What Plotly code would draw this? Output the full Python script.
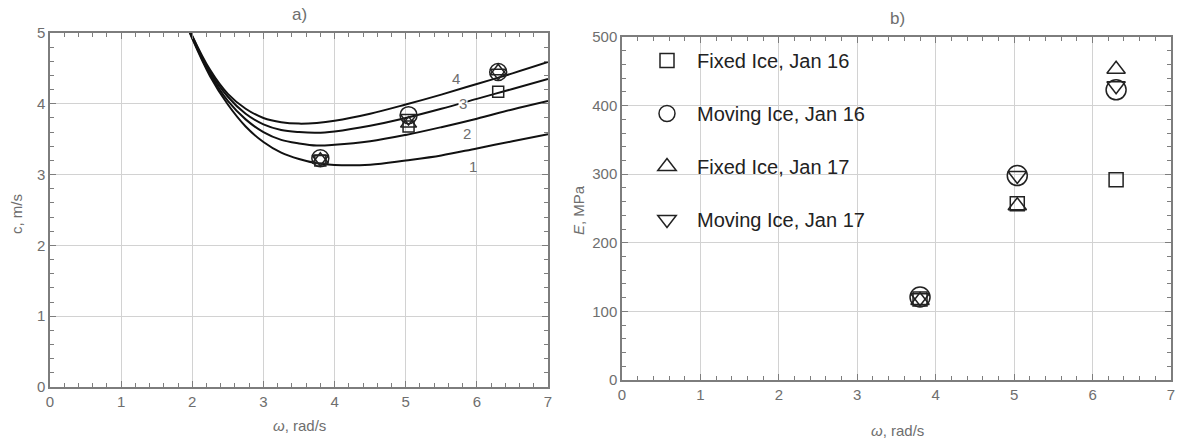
import plotly.graph_objects as go

W, H = 1179, 441

# ---- left panel: dispersion curves ----
omega_curve = [1.9, 2.0, 2.25, 2.5, 2.75, 3.0, 3.25, 3.5, 3.75, 4.0, 4.5, 5.0, 5.5, 6.0, 6.5, 7.0]
c_curve1 = [5.17, 4.92, 4.39, 3.99, 3.68, 3.46, 3.31, 3.22, 3.16, 3.135, 3.14, 3.20, 3.27, 3.37, 3.47, 3.57]
c_curve2 = [5.18, 4.93, 4.42, 4.04, 3.78, 3.60, 3.49, 3.44, 3.41, 3.42, 3.47, 3.56, 3.67, 3.79, 3.92, 4.04]
c_curve3 = [5.19, 4.95, 4.45, 4.10, 3.86, 3.71, 3.63, 3.60, 3.59, 3.61, 3.69, 3.80, 3.93, 4.07, 4.21, 4.35]
c_curve4 = [5.20, 4.96, 4.48, 4.14, 3.93, 3.80, 3.74, 3.72, 3.73, 3.76, 3.86, 3.99, 4.13, 4.28, 4.43, 4.59]
curve_labels = ["1", "2", "3", "4"]
label_omega = [5.94, 5.86, 5.81, 5.70]
label_c = [3.12, 3.58, 4.01, 4.36]

# ---- measured points ----
omega_pts = [3.80, 5.04, 6.30]
series_names = ["Fixed Ice, Jan 16", "Moving Ice, Jan 16", "Fixed Ice, Jan 17", "Moving Ice, Jan 17"]
c_fixed16 = [3.20, 3.68, 4.17]
c_moving16 = [3.23, 3.84, 4.45]
c_fixed17 = [3.21, 3.72, 4.46]
c_moving17 = [3.22, 3.80, 4.44]
E_fixed16 = [118, 257, 292]
E_moving16 = [121, 298, 423]
E_fixed17 = [116, 254, 453]
E_moving17 = [120, 298, 429]

symbols = ["square-open", "circle-open", "triangle-up-open", "triangle-down-open"]
size_left = [11, 17, 14, 14]
size_right = [14, 20, 16, 16]
c_series = [c_fixed16, c_moving16, c_fixed17, c_moving17]
E_series = [E_fixed16, E_moving16, E_fixed17, E_moving17]

FONT = "Liberation Sans, Arial, sans-serif"
AX = "#7d7d7d"
GRID = "#d2d2d2"
TXT = "#6e6e6e"

fig = go.Figure()
for cv in [c_curve1, c_curve2, c_curve3, c_curve4]:
    fig.add_trace(go.Scatter(x=omega_curve, y=cv, mode="lines",
                             line=dict(color="#111111", width=2, shape="spline", smoothing=1),
                             showlegend=False, hoverinfo="skip", xaxis="x", yaxis="y"))
for i in range(4):
    fig.add_trace(go.Scatter(x=omega_pts, y=c_series[i], mode="markers",
                             marker=dict(symbol=symbols[i], size=size_left[i], color="#222222",
                                         line=dict(width=1.5)),
                             showlegend=False, xaxis="x", yaxis="y"))
for i in range(4):
    fig.add_trace(go.Scatter(x=omega_pts, y=E_series[i], mode="markers", name=series_names[i],
                             legendgroup="g%d" % i,
                             marker=dict(symbol=symbols[i], size=size_right[i], color="#222222",
                                         line=dict(width=1.5)),
                             showlegend=True, xaxis="x2", yaxis="y2"))

def px_x(p):
    return p / W

def px_y(p):
    return 1 - p / H

axis_common = dict(showgrid=True, gridcolor=GRID, gridwidth=1, showline=True, linecolor=AX,
                   linewidth=1.5, mirror="allticks", ticks="inside", ticklen=6, tickcolor=AX,
                   zeroline=False, tickfont=dict(size=15, color=TXT, family=FONT),
                   automargin=False)

fig.update_layout(
    width=W, height=H, margin=dict(l=0, r=0, t=0, b=0),
    paper_bgcolor="white", plot_bgcolor="white",
    font=dict(family=FONT),
    xaxis=dict(domain=[px_x(50), px_x(548)], range=[0, 7], dtick=1, tick0=0, anchor="y",
               minor=dict(dtick=0.2, ticks="inside", ticklen=4, tickcolor=AX, showgrid=False),
               **axis_common),
    yaxis=dict(domain=[px_y(387), px_y(33)], range=[0, 5], dtick=1, tick0=0, anchor="x",
               minor=dict(dtick=0.2, ticks="inside", ticklen=4, tickcolor=AX, showgrid=False),
               **axis_common),
    xaxis2=dict(domain=[px_x(622), px_x(1171)], range=[0, 7], dtick=1, tick0=0, anchor="y2",
                minor=dict(dtick=0.2, ticks="inside", ticklen=4, tickcolor=AX, showgrid=False),
                **axis_common),
    yaxis2=dict(domain=[px_y(380), px_y(37)], range=[0, 500], dtick=100, tick0=0, anchor="x2",
                minor=dict(dtick=20, ticks="inside", ticklen=4, tickcolor=AX, showgrid=False),
                **axis_common),
    legend=dict(x=px_x(637), y=px_y(41), xanchor="left", yanchor="top",
                font=dict(size=20, color="#222222", family=FONT),
                itemwidth=50, tracegroupgap=24, bgcolor="rgba(0,0,0,0)"),
)

def note(xp, yp, text, size=15, angle=0):
    return dict(x=px_x(xp), y=px_y(yp), xref="paper", yref="paper", text=text,
                showarrow=False, xanchor="center", yanchor="middle", textangle=angle,
                font=dict(size=size, color=TXT, family=FONT))

ann = []
for t, xo, yc in zip(curve_labels, label_omega, label_c):
    ann.append(dict(x=xo, y=yc, xref="x", yref="y", text=t, showarrow=False,
                    xanchor="center", yanchor="middle",
                    font=dict(size=15, color=TXT, family=FONT),
                    bgcolor="white" if t == "3" else "rgba(0,0,0,0)", borderpad=0))
ann += [
    note(299, 14, "a)", 17),
    note(897, 18, "b)", 17),
    note(299, 425, "<i>ω</i>, rad/s"),
    note(897, 430, "<i>ω</i>, rad/s"),
    note(16, 214, "c, m/s", angle=-90),
    note(578, 210, "<i>E</i>, MPa", angle=-90),
]
fig.update_layout(annotations=ann)

fig.write_html("out.html")
